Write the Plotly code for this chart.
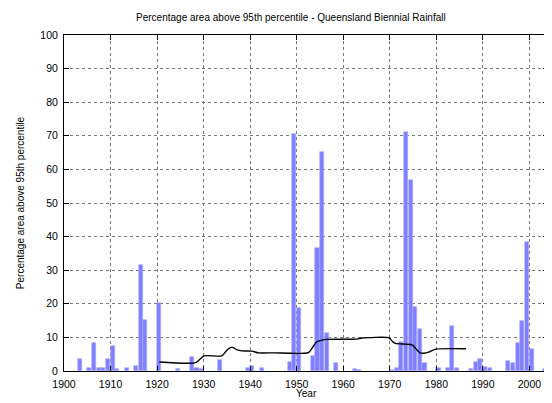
import plotly.graph_objects as go

years = [1903, 1905, 1906, 1907, 1908, 1909, 1910, 1911, 1913, 1915, 1916, 1917,
         1920, 1924, 1927, 1928, 1929, 1933, 1939, 1940, 1942, 1948, 1949, 1950,
         1953, 1954, 1955, 1956, 1958, 1962, 1963, 1970, 1971, 1972, 1973, 1974,
         1975, 1976, 1977, 1980, 1982, 1983, 1984, 1987, 1988, 1989, 1990, 1991,
         1995, 1996, 1997, 1998, 1999, 2000, 2003]
pct_area = [3.6, 0.9, 8.4, 1.0, 0.8, 3.6, 7.3, 0.5, 1.0, 1.6, 31.6, 15.3,
            20.3, 0.5, 4.1, 1.0, 0.6, 3.4, 0.9, 1.4, 1.0, 2.7, 70.5, 18.7,
            4.4, 36.6, 65.2, 11.2, 2.5, 0.5, 0.2, 0.4, 1.0, 8.5, 71.2, 56.8,
            19.0, 12.5, 2.3, 1.0, 1.0, 13.4, 0.9, 0.6, 2.6, 3.5, 1.3, 0.9,
            3.1, 2.4, 8.4, 15.0, 38.5, 6.6, 0.5]

smooth_years = [1920.5, 1928.3, 1930.1, 1933.9, 1935.0, 1936.1, 1937.2, 1938.2,
                1940.4, 1941.8, 1945.0, 1952.5, 1953.5, 1954.3, 1955.5, 1956.5,
                1962.9, 1964.0, 1969.8, 1970.6, 1971.2, 1974.8, 1975.5, 1976.5,
                1977.3, 1978.5, 1979.9, 1986.4]
smooth_vals = [2.7, 2.5, 4.5, 4.5, 6.2, 7.1, 6.3, 6.0,
               5.9, 5.4, 5.4, 5.5, 7.2, 8.7, 9.2, 9.4,
               9.5, 9.8, 9.9, 8.8, 8.2, 7.8, 6.8, 5.4,
               5.3, 5.7, 6.5, 6.6]

x_ticks = list(range(1900, 2001, 10))
y_ticks = list(range(0, 101, 10))

FONT = "Liberation Sans, Arial, sans-serif"

fig = go.Figure()
fig.add_trace(go.Bar(
    x=years, y=pct_area, width=0.87, offset=0.03,
    marker=dict(color="#8080ff", line=dict(width=0.6, color="#a8a8ff")),
    showlegend=False,
))
fig.add_trace(go.Scatter(
    x=smooth_years, y=smooth_vals, mode="lines",
    line=dict(color="black", width=1.4, shape="spline", smoothing=0.6),
    showlegend=False,
))

axis_common = dict(
    showline=True, linecolor="black", linewidth=1, mirror="ticks",
    ticks="inside", ticklen=5, tickcolor="black", tickwidth=1,
    showgrid=True, gridcolor="#777777", gridwidth=0.5, griddash="dot",
    zeroline=False, tickfont=dict(family=FONT, size=10.5, color="black"),
)

# the page body adds an 8px offset, so the figure is sized to fill the rest
fig.update_layout(
    width=544, height=395,
    margin=dict(l=56, r=4, t=27, b=32, autoexpand=False),
    paper_bgcolor="white", plot_bgcolor="white",
    bargap=0,
    title=dict(text="Percentage area above 95th percentile - Queensland Biennial Rainfall",
               x=0.52, xanchor="center", y=1 - 9 / 395, yanchor="middle",
               font=dict(family=FONT, size=10, color="black")),
    xaxis=dict(range=[1900, 2004], tickvals=x_ticks, ticklabelstandoff=3,
               **axis_common),
    yaxis=dict(range=[0, 100], tickvals=y_ticks, ticklabelstandoff=3,
               title=dict(text="Percentage area above 95th percentile",
                          font=dict(family=FONT, size=10, color="black"), standoff=13),
               **axis_common),
    annotations=[dict(text="Year", xref="paper", yref="paper", x=0.5, y=-22.5 / 336,
                      xanchor="center", yanchor="middle", showarrow=False,
                      font=dict(family=FONT, size=10, color="black"))],
)

fig.write_html("out.html")
